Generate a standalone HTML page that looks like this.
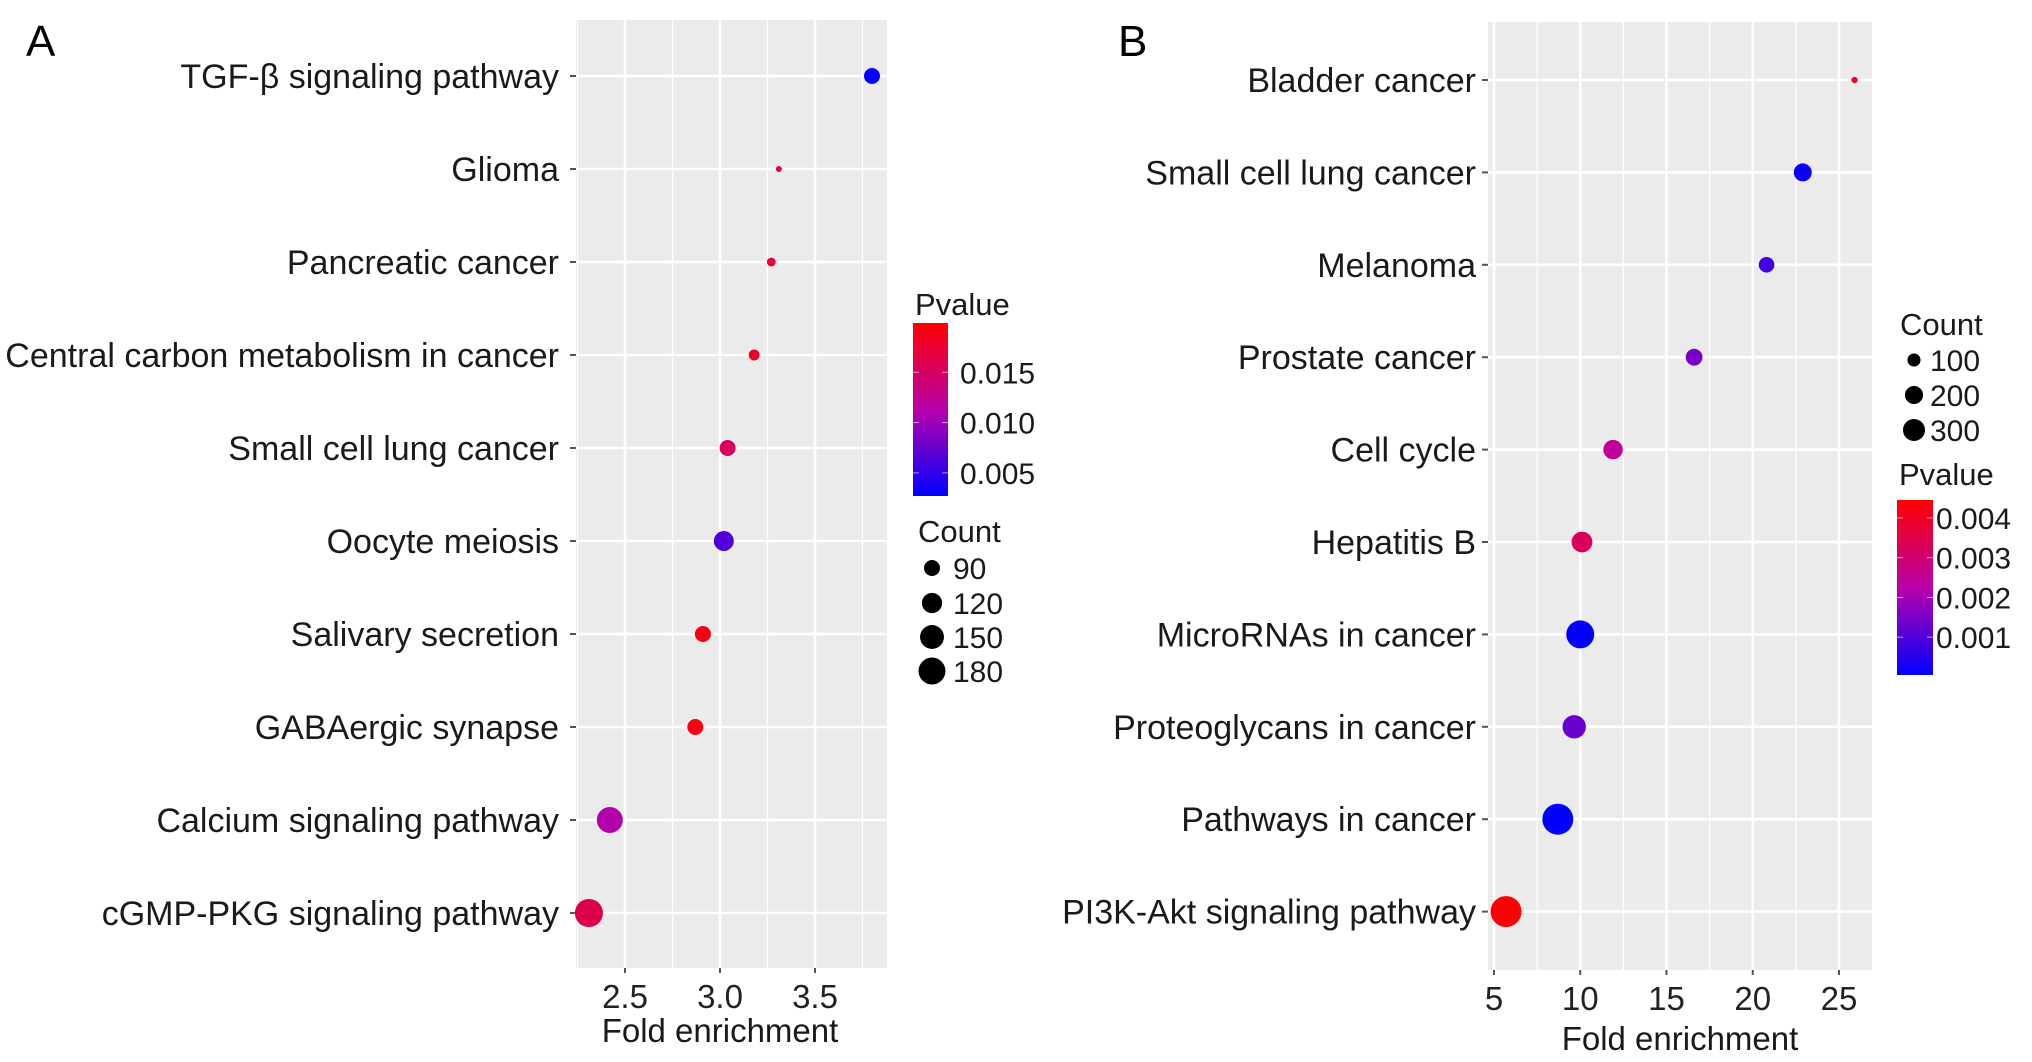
<!DOCTYPE html>
<html><head><meta charset="utf-8"><style>
html,body{margin:0;padding:0;background:#fff;}
svg{display:block;font-family:"Liberation Sans",Arial,sans-serif;}
</style></head><body>
<svg id="fig" width="2032" height="1062" viewBox="0 0 2032 1062" xmlns="http://www.w3.org/2000/svg">
<text x="26" y="56" font-size="44" fill="#000">A</text>
<text x="1118" y="56" font-size="44" fill="#000">B</text>
<g id="gA"></g>
<g id="gB"></g>
</svg>
<script>
const catsA = ["TGF-β signaling pathway","Glioma","Pancreatic cancer","Central carbon metabolism in cancer","Small cell lung cancer","Oocyte meiosis","Salivary secretion","GABAergic synapse","Calcium signaling pathway","cGMP-PKG signaling pathway"];
const foldA = [3.80,3.31,3.27,3.18,3.04,3.02,2.91,2.87,2.42,2.31];
const countA = [90,48,56,64,90,117,90,90,170,192];
const pvalA = [0.003,0.017,0.017,0.018,0.015,0.0065,0.019,0.019,0.011,0.016];
const xticksA = [2.5,3.0,3.5];
const xtickLabelsA = ["2.5","3.0","3.5"];
const pticksA = [0.005,0.010,0.015];
const pLabelsA = ["0.005","0.010","0.015"];
const cLegA = [90,120,150,180];

const catsB = ["Bladder cancer","Small cell lung cancer","Melanoma","Prostate cancer","Cell cycle","Hepatitis B","MicroRNAs in cancer","Proteoglycans in cancer","Pathways in cancer","PI3K-Akt signaling pathway"];
const foldB = [25.9,22.9,20.8,16.6,11.9,10.1,10.0,9.65,8.7,5.7];
const countB = [18,197,146,171,231,266,489,339,600,600];
const pvalB = [0.0040,0.0002,0.0008,0.0015,0.0025,0.0033,0.0001,0.0013,0.0001,0.0044];
const xticksB = [5,10,15,20,25];
const xtickLabelsB = ["5","10","15","20","25"];
const pticksB = [0.001,0.002,0.003,0.004];
const pLabelsB = ["0.001","0.002","0.003","0.004"];
const cLegB = [100,200,300];

const NS="http://www.w3.org/2000/svg";
function mk(parent,tag,attrs){const e=document.createElementNS(NS,tag);for(const k in attrs)e.setAttribute(k,attrs[k]);parent.appendChild(e);return e;}
function lerp(a,b,t){return a+(b-a)*t;}
function pcolor(t){t=Math.max(0,Math.min(1,t));
  const s=[[0,[0,0,255]],[0.5,[185,0,170]],[1,[255,0,0]]];
  let i=t<=0.5?0:1;const a=s[i],b=s[i+1];const u=(t-a[0])/(b[0]-a[0]);
  return `rgb(${Math.round(lerp(a[1][0],b[1][0],u))},${Math.round(lerp(a[1][1],b[1][1],u))},${Math.round(lerp(a[1][2],b[1][2],u))})`;}

function panel(g,cfg){
  const {L,R,T,B,x0,v0,x1,v1,y0,dy,cats,fold,count,pval,xt,xtl,minor,rad,pmin,pmax,labelEnd,tickY,titleY,titleX}=cfg;
  const xs=v=>x0+(v-v0)*(x1-x0)/(v1-v0);
  const ys=i=>y0+i*dy;
  const bg=mk(g,'rect',{x:L,y:T,width:R-L,height:B-T,fill:'#EBEBEB'});
  
  
  minor.forEach(v=>{const l=mk(g,'line',{x1:xs(v),x2:xs(v),y1:T,y2:B,stroke:'#fff','stroke-width':1.2});
    
    });
  xt.forEach((v,i)=>{const l=mk(g,'line',{x1:xs(v),x2:xs(v),y1:T,y2:B,stroke:'#fff','stroke-width':2.6});
    
    
    const tk=mk(g,'line',{x1:xs(v),x2:xs(v),y1:B,y2:B+5,stroke:'#555','stroke-width':2});
    
    
    const t=mk(g,'text',{x:xs(v),y:tickY,'font-size':33,fill:'#222','text-anchor':'middle'});t.textContent=xtl[i];
    
    });
  cats.forEach((c,i)=>{const y=ys(i);
    const l=mk(g,'line',{x1:L,x2:R,y1:y,y2:y,stroke:'#fff','stroke-width':2.6});
    
    
    const tk=mk(g,'line',{x1:L-6,x2:L,y1:y,y2:y,stroke:'#555','stroke-width':2});
    
    
    const t=mk(g,'text',{x:labelEnd,y:y+12,'font-size':34,fill:'#1a1a1a','text-anchor':'end'});t.textContent=c;
    
    });
  cats.forEach((c,i)=>{
    const d=mk(g,'circle',{cx:xs(fold[i]),cy:ys(i),r:rad(count[i]),fill:pcolor((pval[i]-pmin)/(pmax-pmin))});
    
    });
  const tt=mk(g,'text',{x:titleX,y:titleY,'font-size':33,fill:'#1a1a1a','text-anchor':'middle'});tt.textContent='Fold enrichment';
  
  
}
function colorbar(g,cfg){
  const {x,yTop,yBot,w,pTop,pBot,ticks,labels,title,titleY,id}=cfg;
  const py=p=>yTop+(pTop-p)*(yBot-yTop)/(pTop-pBot);
  const defs=mk(g,'defs',{});const lg=mk(defs,'linearGradient',{id:id,x1:0,y1:1,x2:0,y2:0});
  for(let k=0;k<=10;k++)mk(lg,'stop',{offset:k/10,'stop-color':pcolor(k/10)});
  const t=mk(g,'text',{x:x+2,y:titleY,'font-size':31,fill:'#1a1a1a'});t.textContent=title;
  
  
  const r=mk(g,'rect',{x:x,y:yTop,width:w,height:yBot-yTop,fill:`url(#${id})`});
  
  
  ticks.forEach((p,i)=>{const y=py(p);
    mk(g,'line',{x1:x,x2:x+6,y1:y,y2:y,stroke:'#fff','stroke-width':1,opacity:0.6});
    mk(g,'line',{x1:x+w-6,x2:x+w,y1:y,y2:y,stroke:'#fff','stroke-width':1,opacity:0.6});
    const l=mk(g,'text',{x:x+w+(cfg.gap||12),y:y+11,'font-size':30,fill:'#1a1a1a'});l.textContent=labels[i];
    
    });
}
function sizeLegend(g,cfg){
  const {x,titleY,ys,vals,rad,labelX}=cfg;
  const t=mk(g,'text',{x:x-14,y:titleY,'font-size':31,fill:'#1a1a1a'});t.textContent='Count';
  
  
  vals.forEach((v,i)=>{const c=mk(g,'circle',{cx:x,cy:ys[i],r:rad(v),fill:'#000'});
    
    
    const l=mk(g,'text',{x:labelX,y:ys[i]+11,'font-size':30,fill:'#1a1a1a'});l.textContent=String(v);
    
    });
}
const radA=c=>Math.sqrt(Math.max(4,64+(c-90)*1.31));
const radB=c=>Math.sqrt(Math.max(4,3+c*0.395));
const gA=document.getElementById('gA'),gB=document.getElementById('gB');
panel(gA,{L:576,R:887,T:20,B:968,x0:720,v0:3.0,x1:815,v1:3.5,y0:76,dy:93,cats:catsA,fold:foldA,count:countA,pval:pvalA,
  xt:xticksA,xtl:xtickLabelsA,minor:[2.25,2.75,3.25,3.75],rad:radA,pmin:0.0027,pmax:0.0199,labelEnd:559,tickY:1008,titleY:1042,titleX:720});
colorbar(gA,{x:913,yTop:323,yBot:496,w:35,pTop:0.0199,pBot:0.0027,ticks:pticksA,labels:pLabelsA,title:'Pvalue',titleY:315,id:'gradA'});
sizeLegend(gA,{x:932,titleY:542,ys:[568,603,637,671],vals:cLegA,rad:radA,labelX:953});
panel(gB,{L:1488,R:1872,T:22,B:970,x0:1494,v0:5,x1:1839,v1:25,y0:80,dy:92.4,cats:catsB,fold:foldB,count:countB,pval:pvalB,
  xt:xticksB,xtl:xtickLabelsB,minor:[7.5,12.5,17.5,22.5],rad:radB,pmin:0.00005,pmax:0.00445,labelEnd:1476,tickY:1010,titleY:1050,titleX:1680});
sizeLegend(gB,{x:1914,titleY:335,ys:[360,395,430],vals:cLegB,rad:radB,labelX:1930});
colorbar(gB,{x:1897,yTop:500,yBot:675,w:36,pTop:0.00445,pBot:0.00005,ticks:pticksB,labels:pLabelsB,title:'Pvalue',titleY:485,id:'gradB',gap:3});
</script>
</body></html>
